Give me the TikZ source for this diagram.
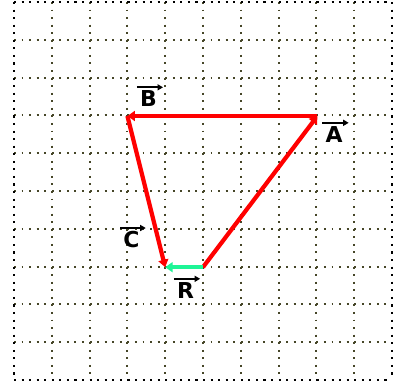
\documentclass[tikz,border=0pt]{standalone}
\usepackage{fontspec}
\setmainfont{DejaVu Sans}
\usetikzlibrary{arrows.meta}
\definecolor{gridol}{RGB}{70,70,40}
\definecolor{vred}{RGB}{255,0,0}
\definecolor{vgreen}{RGB}{30,245,150}
\tikzset{
  gridline/.style={gridol, line width=1.9bp, dash pattern=on 1.9bp off 5.66bp},
  borderline/.style={black, line width=2.1bp, dash pattern=on 2.1bp off 5.46bp},
  vec/.style={line width=4.2bp, -{Triangle[length=7.5bp,width=10bp]}},
  lbl/.style={inner sep=0pt, font=\fontsize{22}{24}\selectfont\bfseries},
  lblarrow/.style={black, line width=1.7bp, -{Triangle[length=5.5bp,width=6bp]}}
}
\begin{document}
\begin{tikzpicture}[x=1bp,y=-1bp]
\useasboundingbox (0,0) rectangle (393,386);
\fill[white] (0,0) rectangle (393,386);
% inner grid
\foreach \i in {1,...,9} {
  \draw[gridline] ({14+37.8*\i},2) -- ({14+37.8*\i},380);
  \draw[gridline] (14,{2+37.8*\i}) -- (392,{2+37.8*\i});
}
% border
\draw[borderline] (14,2) -- (14,380) -- (392,380);
\draw[borderline] (14,2) -- (392,2) -- (392,380);
% points
\coordinate (O) at (203,267.2);
\coordinate (P) at (317.4,116);
\coordinate (Q) at (127.4,116);
\coordinate (S) at (165.2,267.2);
% vectors
\draw[vec, vred] (O) -- (P);
\draw[vec, vred] (P) -- (Q);
\draw[vec, vred] (Q) -- (S);
\draw[vec, vgreen] (O) -- (S);
% labels
\node[lbl] (lA) at (334,134.5) {A};
\node[lbl] (lB) at (148.5,99) {B};
\node[lbl] (lC) at (131.5,240) {C};
\node[lbl] (lR) at (185.5,290.5) {R};
\foreach \n in {lA,lB,lC,lR} {
  \draw[lblarrow] ([xshift=-3bp,yshift=3.5bp]\n.north west) -- ([xshift=6bp,yshift=3.5bp]\n.north east);
}
\end{tikzpicture}
\end{document}
